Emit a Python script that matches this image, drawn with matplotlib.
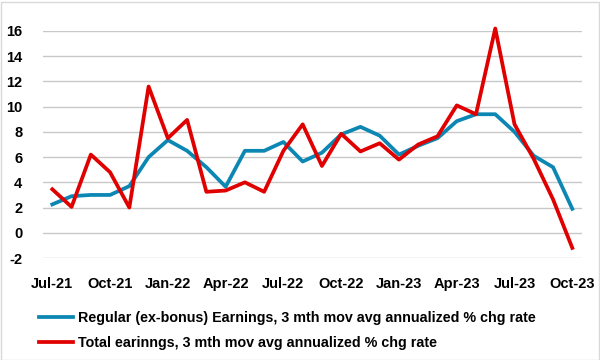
import numpy as np
import matplotlib.pyplot as plt
from matplotlib.patches import Rectangle

plt.rcParams['font.family'] = ['Liberation Sans', 'DejaVu Sans']
plt.rcParams['axes.unicode_minus'] = False

months = ['Jul-21', 'Aug-21', 'Sep-21', 'Oct-21', 'Nov-21', 'Dec-21',
          'Jan-22', 'Feb-22', 'Mar-22', 'Apr-22', 'May-22', 'Jun-22',
          'Jul-22', 'Aug-22', 'Sep-22', 'Oct-22', 'Nov-22', 'Dec-22',
          'Jan-23', 'Feb-23', 'Mar-23', 'Apr-23', 'May-23', 'Jun-23',
          'Jul-23', 'Aug-23', 'Sep-23', 'Oct-23']
regular = [2.25, 2.9, 3.0, 3.0, 3.7, 6.0, 7.35, 6.5, 5.2, 3.65, 6.5, 6.5,
           7.2, 5.65, 6.35, 7.8, 8.4, 7.7, 6.2, 6.9, 7.5, 8.85, 9.4, 9.4,
           8.0, 6.1, 5.2, 1.9]
total = [3.45, 2.05, 6.2, 4.8, 2.0, 11.6, 7.5, 8.95, 3.25, 3.35, 4.0, 3.25,
         6.5, 8.6, 5.3, 7.85, 6.45, 7.1, 5.8, 7.0, 7.65, 10.1, 9.4, 16.2,
         8.6, 5.85, 2.65, -1.2]
label_regular = 'Regular (ex-bonus) Earnings, 3 mth mov avg annualized % chg rate'
label_total = 'Total earinngs, 3 mth mov avg annualized % chg rate'

x = np.arange(len(months))

fig = plt.figure(figsize=(6, 3.6), dpi=100)
ax = fig.add_axes([43/600, 1-258/360, (582-43)/600, (258-31)/360])

l1, = ax.plot(x, regular, color='#0C86B2', lw=2.7, label=label_regular,
              solid_joinstyle='round', clip_on=False, zorder=3)
l2, = ax.plot(x, total, color='#E00000', lw=2.7, label=label_total,
              solid_joinstyle='round', clip_on=False, zorder=4)

ax.set_ylim(-2, 16)
ax.set_yticks(np.arange(-2, 17, 2))
ax.set_xlim(-(52.3-43)/19.26, 27 + (582-572.3)/19.26)
ax.set_xticks(x[::3])
ax.set_xticklabels(months[::3])
ax.grid(axis='y', color='#C8C8C8', lw=1)
ax.set_axisbelow(True)
for s in ax.spines.values():
    s.set_visible(False)
ax.tick_params(length=0)
ax.tick_params(axis='y', pad=15)
ax.tick_params(axis='x', pad=14)
for t in ax.get_xticklabels() + ax.get_yticklabels():
    t.set_fontsize(10.5)
    t.set_fontweight('bold')

fig.legend(handles=[l1, l2], loc='upper left', bbox_to_anchor=(32/600, 1-304/360),
           frameon=False, prop={'size': 10.3, 'weight': 'bold'},
           handlelength=2.4, handletextpad=0.3, labelspacing=0.75, borderpad=0)

fig.patches.append(Rectangle((0.5/600, 0.5/360), 598/600, 358/360, transform=fig.transFigure,
                             fill=False, edgecolor='#D9D9D9', lw=1))

fig.savefig('out.png', dpi=100)
